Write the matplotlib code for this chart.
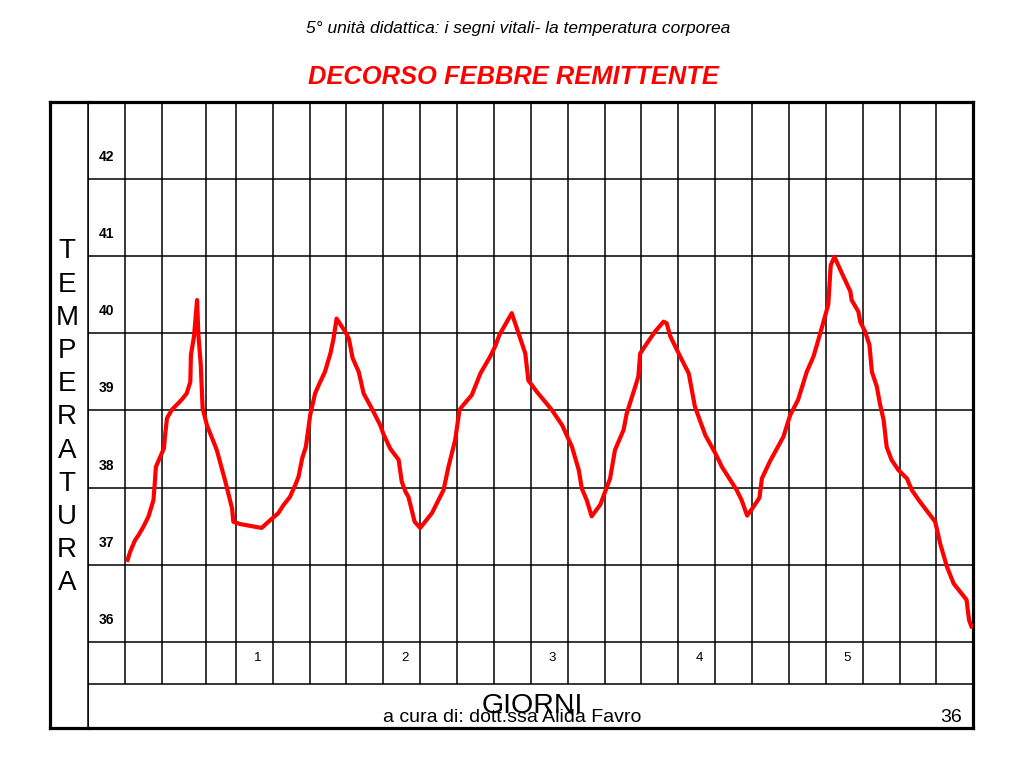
import matplotlib

matplotlib.use("Agg")
import matplotlib.pyplot as plt

plt.rcParams["font.family"] = ["Liberation Sans", "DejaVu Sans"]

# temperature curve: time in hours from the first column, temperature in °C
hours = [
    0.3, 0.8, 1.6, 2.2, 3.0, 3.8, 4.6, 4.8, 5.0, 5.7, 6.3, 6.5, 6.8, 7.6, 9.2, 10.0,
    10.6, 10.7, 11.2, 11.7, 11.9, 12.3, 12.6, 13.3, 14.9, 16.3, 17.4, 17.6, 18.7, 22.2,
    23.6, 24.9, 25.8, 26.8, 27.7, 28.2, 28.8, 29.4, 30.1, 30.9, 31.5, 32.5, 33.4, 33.9,
    34.4, 35.8, 36.4, 37.0, 38.0, 38.8, 40.1, 41.5, 42.0, 43.1, 44.5, 45.0, 45.6, 46.1,
    47.1, 48.0, 49.9, 51.8, 52.6, 53.7, 54.4, 55.0, 56.4, 57.8, 59.4, 60.2, 60.9, 62.9,
    65.1, 65.6, 67.0, 69.4, 71.1, 72.7, 73.8, 74.3, 75.1, 75.9, 77.3, 78.9, 79.7, 81.1,
    81.6, 83.0, 83.5, 83.8, 84.9, 86.2, 87.6, 88.1, 88.7, 90.3, 91.7, 92.7, 94.4, 96.0,
    97.1, 99.5, 100.3, 101.2, 102.2, 103.2, 103.6, 104.9, 107.1, 108.2, 109.5, 110.9,
    112.0, 113.1, 114.4, 114.8, 115.4, 116.6, 118.0, 118.2, 119.3, 119.6, 120.4, 121.1,
    121.5, 122.3, 122.8, 123.4, 123.9, 124.7, 125.8, 127.2, 128.0, 129.3, 131.8, 132.6,
    133.7, 134.8, 136.9, 137.3, 137.8,
]
temps = [
    37.04, 37.17, 37.32, 37.39, 37.50, 37.63, 37.84, 38.04, 38.27, 38.40, 38.51, 38.68,
    38.90, 39.01, 39.14, 39.22, 39.37, 39.72, 39.96, 40.43, 40.00, 39.59, 39.03, 38.81,
    38.49, 38.08, 37.73, 37.56, 37.53, 37.48, 37.58, 37.67, 37.78, 37.88, 38.04, 38.14,
    38.38, 38.53, 38.94, 39.22, 39.33, 39.50, 39.74, 39.93, 40.19, 40.02, 39.93, 39.68,
    39.50, 39.22, 39.03, 38.81, 38.70, 38.51, 38.36, 38.08, 37.95, 37.88, 37.56, 37.48,
    37.67, 37.97, 38.27, 38.62, 39.01, 39.07, 39.20, 39.48, 39.70, 39.83, 39.98, 40.26,
    39.74, 39.39, 39.24, 39.01, 38.81, 38.53, 38.23, 37.99, 37.84, 37.63, 37.78, 38.12,
    38.49, 38.75, 38.96, 39.31, 39.44, 39.74, 39.87, 40.02, 40.15, 40.13, 39.96, 39.70,
    39.48, 39.05, 38.68, 38.45, 38.27, 37.97, 37.84, 37.64, 37.75, 37.87, 38.12, 38.34,
    38.66, 38.94, 39.14, 39.50, 39.70, 40.00, 40.37, 40.88, 40.99, 40.78, 40.54, 40.43,
    40.28, 40.15, 40.02, 39.85, 39.50, 39.31, 39.09, 38.88, 38.53, 38.36, 38.23, 38.12,
    37.97, 37.82, 37.56, 37.28, 36.98, 36.76, 36.55, 36.29, 36.18,
]

temp_labels = [42, 41, 40, 39, 38, 37, 36]
day_labels = ["1", "2", "3", "4", "5"]
day_hours = [21, 45, 69, 93, 117]
column_edges = [0, 6, 13.1] + list(range(18, 138, 6))

W, H = 1024, 768
x0, x1 = 88.3, 973.3
y_top, y_bot = 101.5, 728.3
t_bottom, t_top = 34.886, 43.0
day_row_bottom = 35.46

fig = plt.figure(figsize=(W / 100, H / 100), dpi=100)

ax = fig.add_axes([x0 / W, 1 - y_bot / H, (x1 - x0) / W, (y_bot - y_top) / H])
ax.set_xlim(-6, 138)
ax.set_ylim(t_bottom, t_top)
ax.set_xticks([])
ax.set_yticks([])
for side in ["top", "bottom", "right"]:
    ax.spines[side].set_linewidth(2.3)
ax.spines["left"].set_linewidth(1.1)

ax.hlines(list(range(36, 43)) + [day_row_bottom], -6, 138, color="black", lw=1.1)
ax.vlines(column_edges, day_row_bottom, t_top, color="black", lw=1.1)

for t in temp_labels:
    ax.text(-3.1, t + 0.285, str(t), ha="center", va="center",
            fontsize=10, fontweight="bold")
for d, h in zip(day_labels, day_hours):
    ax.text(h + 0.5, 35.80, d, ha="center", va="center", fontsize=9.5)

ax.plot(hours, temps, color="#ff0000", lw=3, solid_capstyle="butt", zorder=5)

# left column with the vertical label
ax_left = fig.add_axes([50 / W, 1 - y_bot / H, (x0 - 50) / W, (y_bot - y_top) / H])
ax_left.set_xticks([])
ax_left.set_yticks([])
for side in ["top", "bottom", "left"]:
    ax_left.spines[side].set_linewidth(2.3)
ax_left.spines["right"].set_linewidth(1.1)
ax_left.text(0.45, 1 - (417.3 - y_top) / (y_bot - y_top), "\n".join("TEMPERATURA"),
             transform=ax_left.transAxes, ha="center", va="center",
             fontsize=20, linespacing=1.36)

fig.text(518 / W, 1 - 29 / H, "5° unità didattica: i segni vitali- la temperatura corporea",
         ha="center", va="center", fontsize=12.5, style="italic")
fig.text(513 / W, 1 - 77 / H, "DECORSO FEBBRE REMITTENTE", ha="center", va="center",
         fontsize=18.4, style="italic", fontweight="bold", color="#ff0000")
fig.text(532.5 / W, 1 - 706 / H, "GIORNI", ha="center", va="center", fontsize=20.5)
fig.text(511.7 / W, 1 - 717 / H, "a cura di: dott.ssa Alida Favro", ha="center",
         va="center", fontsize=14)
fig.text(951 / W, 1 - 717 / H, "36", ha="center", va="center", fontsize=14)

fig.savefig("out.png", dpi=100)
